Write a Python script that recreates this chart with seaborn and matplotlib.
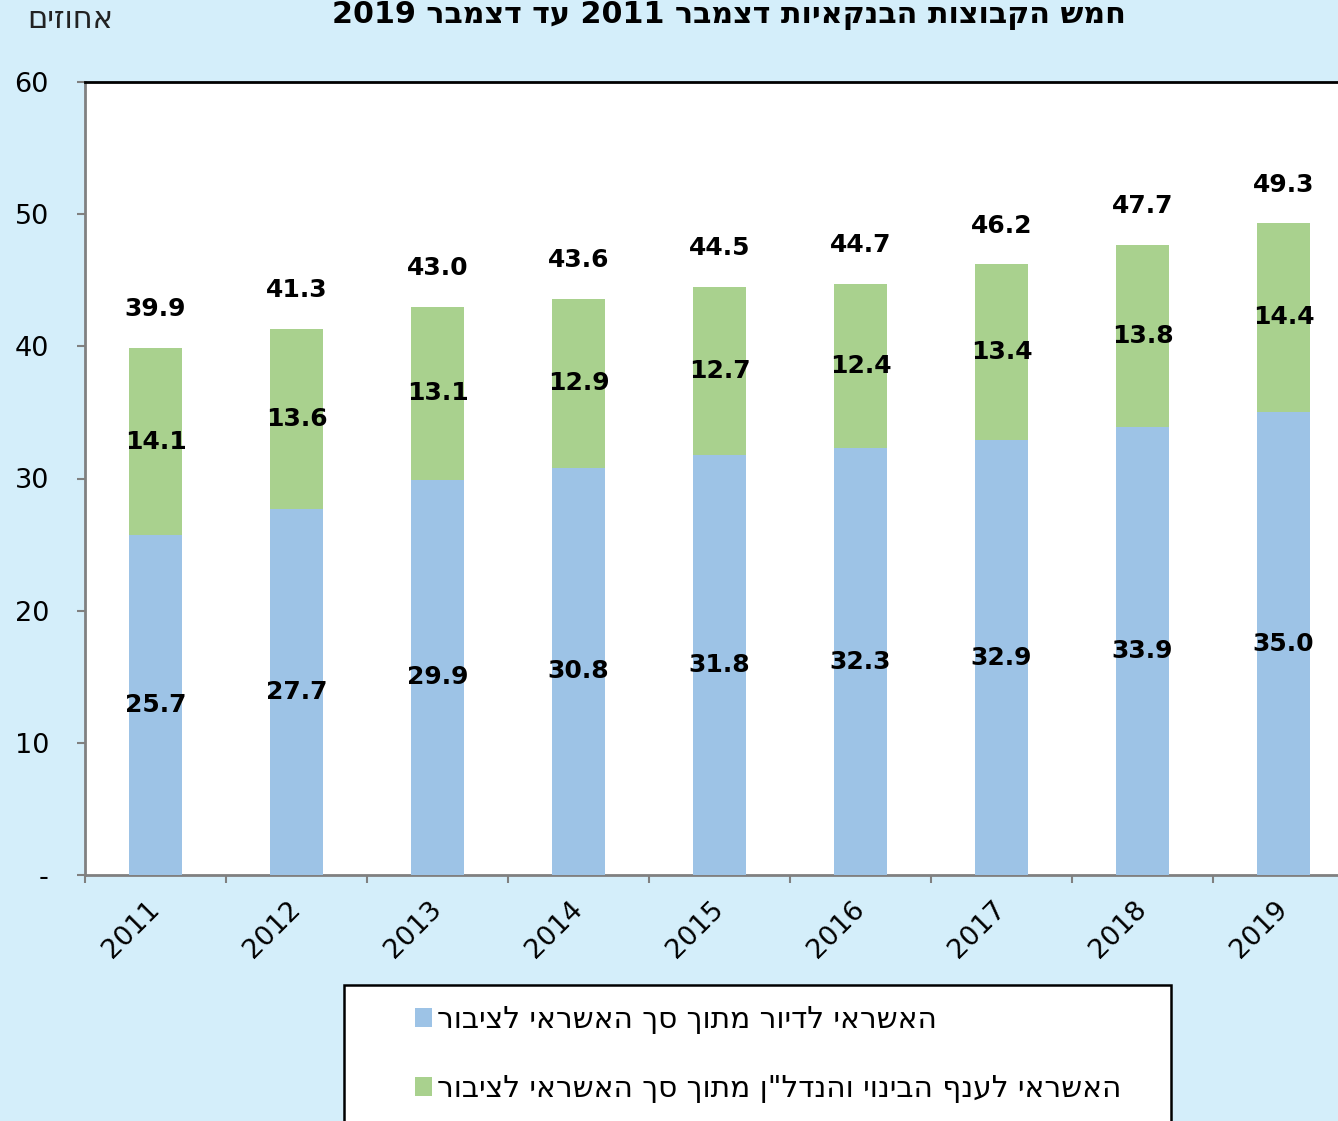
import re
import matplotlib
matplotlib.use("Agg")
import matplotlib.pyplot as plt
from matplotlib.patches import Patch, Rectangle
import seaborn as sns

# ---- data ----
years = ['2011', '2012', '2013', '2014', '2015', '2016', '2017', '2018', '2019']
housing = [25.7, 27.7, 29.9, 30.8, 31.8, 32.3, 32.9, 33.9, 35.0]
construction = [14.1, 13.6, 13.1, 12.9, 12.7, 12.4, 13.4, 13.8, 14.4]
totals = [39.9, 41.3, 43.0, 43.6, 44.5, 44.7, 46.2, 47.7, 49.3]
y_ticks = [0, 10, 20, 30, 40, 50, 60]
y_tick_labels = ['-', '10', '20', '30', '40', '50', '60']

title = 'חמש הקבוצות הבנקאיות דצמבר 2011 עד דצמבר 2019'
unit_label = 'אחוזים'
legend_labels = ['האשראי לדיור מתוך סך האשראי לציבור',
                 'האשראי לענף הבינוי והנדל"ן מתוך סך האשראי לציבור']


def visual(s):
    """Convert logical-order Hebrew to visual order (keep numbers LTR)."""
    r = s[::-1]
    return re.sub(r'\d+(?:\.\d+)?', lambda m: m.group(0)[::-1], r)


BG = '#D4EEFA'
BLUE = '#9DC3E6'
GREEN = '#A9D18E'

sns.set_style('white')
plt.rcParams['font.family'] = ['DejaVu Sans']
plt.rcParams['text.color'] = 'black'

W, H = 1338, 1121
fig = plt.figure(figsize=(W / 100, H / 100), dpi=100, facecolor=BG)
ax = fig.add_axes([85 / W, 1 - 875 / H, 1269 / W, (875 - 82) / H])
ax.set_facecolor('white')

sns.barplot(x=years, y=totals, color=GREEN, width=0.375, saturation=1,
            ax=ax, zorder=2, linewidth=0)
sns.barplot(x=years, y=housing, color=BLUE, width=0.375, saturation=1,
            ax=ax, zorder=3, linewidth=0)

ax.set_xlim(-0.5, len(years) - 0.5)
ax.set_ylim(0, 60)
ax.set_yticks(y_ticks)
ax.set_yticklabels(y_tick_labels)
ax.set_xlabel('')
ax.set_ylabel('')

# x ticks: labels at centers, tick marks at boundaries
ax.set_xticks(range(len(years)))
ax.set_xticklabels(years, rotation=45, ha='right', va='center',
                   rotation_mode='anchor')
ax.set_xticks([i - 0.5 for i in range(len(years) + 1)], minor=True)
ax.tick_params(axis='x', which='major', length=0, pad=22, labelsize=19.5,
               labelcolor='black')
ax.tick_params(axis='x', which='minor', length=6, width=1.5, color='#808080',
               direction='out', bottom=True)
ax.tick_params(axis='y', length=6, width=1.5, color='#808080', pad=20,
               labelsize=19.5, left=True, labelcolor='black')

for side in ['left', 'bottom']:
    ax.spines[side].set_color('#808080')
    ax.spines[side].set_linewidth(2)
ax.spines['top'].set_color('black')
ax.spines['top'].set_linewidth(2)
ax.spines['right'].set_visible(False)
ax.grid(False)

# value labels
for i in range(len(years)):
    ax.text(i, housing[i] / 2, f'{housing[i]:.1f}', ha='center', va='center',
            fontsize=18, fontweight='bold', color='black', zorder=5)
    ax.text(i, housing[i] + construction[i] / 2, f'{construction[i]:.1f}',
            ha='center', va='center', fontsize=18, fontweight='bold',
            color='black', zorder=5)
    ax.annotate(f'{totals[i]:.1f}', (i, totals[i]), xytext=(0, 28),
                textcoords='offset points', ha='center', va='center',
                fontsize=18, fontweight='bold', color='black', zorder=5)

# title and unit label
fig.text(729 / W, 1 - 16 / H, visual(title), ha='center', va='center',
         fontsize=21.7, fontweight='bold', color='black',
         family=['DejaVu Sans'])
fig.text(70 / W, 1 - 19 / H, visual(unit_label), ha='center', va='center',
         fontsize=22, color='#222222', family=['DejaVu Sans'])

# legend frame and legend
frame = Rectangle((344 / W, -0.05), (1171 - 344) / W, 0.05 + (1121 - 985) / H,
                  transform=fig.transFigure, facecolor='white',
                  edgecolor='black', linewidth=1.8, zorder=1)
fig.add_artist(frame)
handles = [Patch(facecolor=BLUE, edgecolor='none'),
           Patch(facecolor=GREEN, edgecolor='none')]
fig.legend(handles, [visual(l) for l in legend_labels], loc='upper left',
           bbox_to_anchor=(415 / W, 1 - 1005 / H), frameon=False,
           fontsize=21.3, handlelength=0.57, handleheight=0.57,
           handletextpad=0.18, labelspacing=1.35, borderpad=0,
           borderaxespad=0)

fig.savefig('out.png', dpi=100, facecolor=BG)
